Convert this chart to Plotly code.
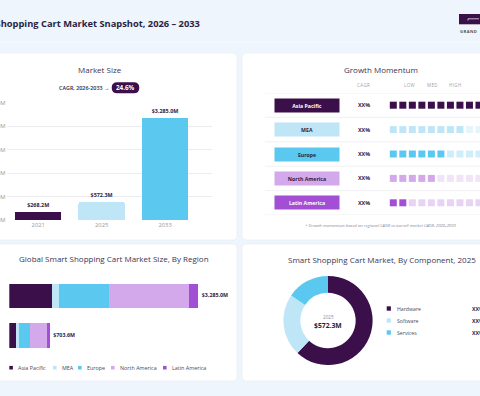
import plotly.graph_objects as go

W, H = 480, 396
FONT = "Open Sans"
DARK = "#2b1d44"
TITLE_C = "#3d3550"
GRAY = "#9a9a9a"

# ---------------- data ----------------
ms_years = ["2021", "2025", "2033"]
ms_values = [268.2, 572.3, 3285.0]
ms_labels = ["$268.2M", "$572.3M", "$3,285.0M"]
ms_colors = ["#3b0f4a", "#bfe6f7", "#5bc8f0"]
ms_ticks = [0, 750, 1500, 2250, 3000, 3750]
ms_ticklabels = ["$0M", "$750M", "$1,500M", "$2,250M", "$3,000M", "$3,750M"]
cagr_label = "CAGR, 2026-2033 \u2192"
cagr_value = "24.6%"

regions = ["Asia Pacific", "MEA", "Europe", "North America", "Latin America"]
region_colors = ["#3b0f4a", "#bfe6f7", "#5bc8f0", "#d4a9ec", "#a24fd6"]
region_faded = ["#3b0f4a", "#e4f5fc", "#cdeefa", "#f1e4f8", "#e7d3f3"]
region_text = ["#ffffff", DARK, DARK, DARK, "#ffffff"]
momentum_cagr = ["XX%", "XX%", "XX%", "XX%", "XX%"]
momentum_filled = [12, 8, 6, 5, 2]
momentum_cells = 12
momentum_headers = ["CAGR", "LOW", "MED", "HIGH"]

stack_years = ["2025", "2033"]
ap_values = [138.0, 737.0]
mea_values = [29.0, 132.0]
eu_values = [190.0, 864.0]
na_values = [317.0, 1385.0]
la_values = [29.6, 167.0]
stack_totals = [703.6, 3285.0]
stack_total_labels = ["$703.6M", "$3,285.0M"]

comp_labels = ["Hardware", "Software", "Services"]
comp_values = [62.0, 22.5, 15.5]
comp_colors = ["#3b0f4a", "#bfe6f7", "#5bc8f0"]
comp_shares = ["XX%", "XX%", "XX%"]
comp_center_year = "2025"
comp_center_value = "$572.3M"


def X(px):
    return px / W


def Y(py):
    return 1 - py / H


def rrect(x0, y0, x1, y1, r):
    return " ".join([
        f"M{X(x0 + r)},{Y(y0)}", f"L{X(x1 - r)},{Y(y0)}",
        f"Q{X(x1)},{Y(y0)} {X(x1)},{Y(y0 + r)}", f"L{X(x1)},{Y(y1 - r)}",
        f"Q{X(x1)},{Y(y1)} {X(x1 - r)},{Y(y1)}", f"L{X(x0 + r)},{Y(y1)}",
        f"Q{X(x0)},{Y(y1)} {X(x0)},{Y(y1 - r)}", f"L{X(x0)},{Y(y0 + r)}",
        f"Q{X(x0)},{Y(y0)} {X(x0 + r)},{Y(y0)}", "Z"])


shapes = []
annotations = []


def card(x0, y0, x1, y1):
    shapes.append(dict(type="path", path=rrect(x0, y0, x1, y1, 4), xref="paper", yref="paper",
                       fillcolor="#ffffff", line=dict(color="#e8eef6", width=0.7), layer="below"))


def ann(text, x, y, size, color, weight=400, xanchor="center", style="normal", xref="paper", yref="paper", **kw):
    annotations.append(dict(text=text, x=x, y=y, xref=xref, yref=yref, xanchor=xanchor, yanchor="middle",
                            showarrow=False, font=dict(family=FONT, size=size, color=color, weight=weight, style=style), **kw))


# cards / background
shapes.append(dict(type="line", x0=0, x1=1, y0=Y(42), y1=Y(42), xref="paper", yref="paper",
                   line=dict(color="#f8fbff", width=1), layer="below"))
card(-6, 53, 237, 240)
card(242, 53, 486, 240)
card(-6, 244, 237, 381)
card(242, 244, 486, 381)

# header
ann("Global Smart Shopping Cart Market Snapshot, 2026 \u2013 2033", X(202), Y(24), 9.3, DARK, 700, xanchor="right")
shapes.append(dict(type="rect", x0=X(459), x1=X(482), y0=Y(24.3), y1=Y(14), xref="paper", yref="paper",
                   fillcolor="#3b0f4a", line=dict(width=0)))
shapes.append(dict(type="path", path=f"M{X(468)},{Y(20.5)} L{X(468)},{Y(18.8)} L{X(479)},{Y(18.8)}",
                   xref="paper", yref="paper", line=dict(color="#ffffff", width=0.7)))
ann("G\u200aR\u200aA\u200aN\u200aD", X(468.5), Y(31), 4.2, "#555555", 700)

# ---------------- Market size ----------------
ann("Market Size", X(99.7), Y(69), 8, TITLE_C, 500)
ann(cagr_label, X(84), Y(87.8), 5.4, DARK, 600)
shapes.append(dict(type="path", path=rrect(111.7, 82.3, 139.3, 93.3, 5.5), xref="paper", yref="paper",
                   fillcolor="#3b0f4a", line=dict(width=0)))
ann(cagr_value, X(125.5), Y(87.9), 6.3, "#ffffff", 700)

traces = []
traces.append(go.Bar(x=ms_years, y=ms_values, marker=dict(color=ms_colors, cornerradius=2, line=dict(width=0)),
                     width=0.733, text=ms_labels, textposition="outside", constraintext="none",
                     outsidetextfont=dict(family=FONT, size=5.4, color=DARK, weight=700),
                     cliponaxis=False, xaxis="x", yaxis="y", hoverinfo="skip"))

# ---------------- Growth momentum ----------------
ann("Growth Momentum", X(381.3), Y(69), 8, TITLE_C, 500)
hdr_x = [363, 409.5, 431.5, 455]
for t, hx in zip(momentum_headers, hdr_x):
    ann("\u200a".join(t), X(hx), Y(85), 4.4, "#a0a0a8", 400)

for i in range(len(regions) + 1):
    shapes.append(dict(type="line", xref="paper", yref="y2", x0=X(265), x1=X(486), y0=i - 0.5, y1=i - 0.5,
                       line=dict(color="#eeeef2", width=0.8), layer="below"))

for i, reg in enumerate(regions):
    annotations.append(dict(text=reg, x=X(307), y=i, xref="paper", yref="y2", showarrow=False,
                            width=64, height=13, bgcolor=region_colors[i], borderpad=0,
                            font=dict(family=FONT, size=5.2, color=region_text[i], weight=700)))
    ann(momentum_cagr[i], X(364), i, 5.4, DARK, 700, yref="y2")
    xs = list(range(momentum_cells))
    cols = [region_colors[i] if k < momentum_filled[i] else region_faded[i] for k in xs]
    traces.append(go.Scatter(x=xs, y=[i] * momentum_cells, mode="markers",
                             marker=dict(symbol="square", size=7, color=cols, line=dict(width=0)),
                             cliponaxis=False, xaxis="x2", yaxis="y2", hoverinfo="skip"))

ann("* Growth momentum based on regional CAGR vs overall market CAGR, 2026-2033", X(381), Y(225), 4.2,
    "#8a8a95", 400, style="italic")

# ---------------- By region stacked ----------------
ann("Global Smart Shopping Cart Market Size, By Region", X(17.3), Y(258.5), 8, TITLE_C, 500, xanchor="left")
for name, vals, col in zip(regions, [ap_values, mea_values, eu_values, na_values, la_values], region_colors):
    traces.append(go.Bar(x=vals, y=stack_years, orientation="h", name=name, width=0.608,
                         marker=dict(color=col, line=dict(width=0)), xaxis="x3", yaxis="y3", hoverinfo="skip"))
traces.append(go.Scatter(x=stack_totals, y=stack_years, mode="text", text=stack_total_labels,
                         texttemplate="\u2002\u2009%{text}",
                         textposition="middle right", textfont=dict(family=FONT, size=5.3, color=DARK, weight=700),
                         cliponaxis=False, xaxis="x3", yaxis="y3", hoverinfo="skip"))

leg_sq = [9.3, 53, 78, 111, 163]
for name, col, lx in zip(regions, region_colors, leg_sq):
    shapes.append(dict(type="rect", xref="paper", yref="paper", x0=X(lx), x1=X(lx + 3.6),
                       y0=Y(369.5), y1=Y(365.9), fillcolor=col, line=dict(width=0)))
    ann(name, X(lx + 6.8), Y(367.8), 5.4, "#4a4a55", 400, xanchor="left")

# ---------------- By component donut ----------------
ann("Smart Shopping Cart Market, By Component, 2025", X(381.5), Y(259), 8, TITLE_C, 500)
cx, cy, R = 328, 320.5, 44.6
traces.append(go.Pie(labels=comp_labels, values=comp_values, hole=0.62, sort=False, direction="clockwise",
                     rotation=0, marker=dict(colors=comp_colors, line=dict(width=0)), textinfo="none",
                     domain=dict(x=[X(cx - R), X(cx + R)], y=[Y(cy + R), Y(cy - R)]), hoverinfo="skip"))
ann(comp_center_year, X(cx), Y(316.7), 4.6, "#8a8a95", 400)
ann(comp_center_value, X(cx), Y(325.8), 6.8, DARK, 700)
for k, (lab, col, sh) in enumerate(zip(comp_labels, comp_colors, comp_shares)):
    yy = 308.5 + 12 * k
    shapes.append(dict(type="rect", xref="paper", yref="paper", x0=X(386.7), x1=X(390.9),
                       y0=Y(yy + 2.2), y1=Y(yy - 2.2), fillcolor=col, line=dict(width=0)))
    ann(lab, X(395), Y(yy + 0.4), 5.2, "#4a4a55", 400, xanchor="left")
    ann(sh, X(470), Y(yy + 0.4), 5.2, DARK, 700, xanchor="left")

fig = go.Figure(data=traces)
fig.update_layout(
    width=W, height=H, autosize=False, margin=dict(l=0, r=0, t=0, b=0, pad=0, autoexpand=False),
    paper_bgcolor="#eef5fc", plot_bgcolor="rgba(0,0,0,0)", showlegend=False,
    barmode="stack", font=dict(family=FONT), shapes=shapes, annotations=annotations,
    xaxis=dict(domain=[X(6.5), X(212)], type="category", range=[-0.5, 2.74], showgrid=False, zeroline=False,
               showline=False, ticks="", automargin=False,
               tickfont=dict(family=FONT, size=5.8, color=GRAY), fixedrange=True),
    yaxis=dict(domain=[Y(220), Y(103)], range=[0, 3750], tickvals=ms_ticks, ticktext=ms_ticklabels,
               showgrid=True, gridcolor="#ebebf0", gridwidth=0.8, zeroline=False, showline=False, ticks="",
               automargin=False, tickfont=dict(family=FONT, size=5.8, color=GRAY), ticklabelstandoff=0,
               fixedrange=True),
    xaxis2=dict(domain=[X(380), X(480)], range=[-1.397, 9.107], visible=False, automargin=False, fixedrange=True),
    yaxis2=dict(domain=[Y(215), Y(93)], range=[4.5, -0.5], visible=False, automargin=False, fixedrange=True),
    xaxis3=dict(domain=[X(9.3), X(236)], range=[0, 3940], visible=False, automargin=False, fixedrange=True),
    yaxis3=dict(domain=[Y(355.25), Y(276.25)], type="category", categoryorder="array", automargin=False,
                categoryarray=stack_years, range=[-0.5, 1.5], visible=False, fixedrange=True),
)
fig.write_html("out.html")
